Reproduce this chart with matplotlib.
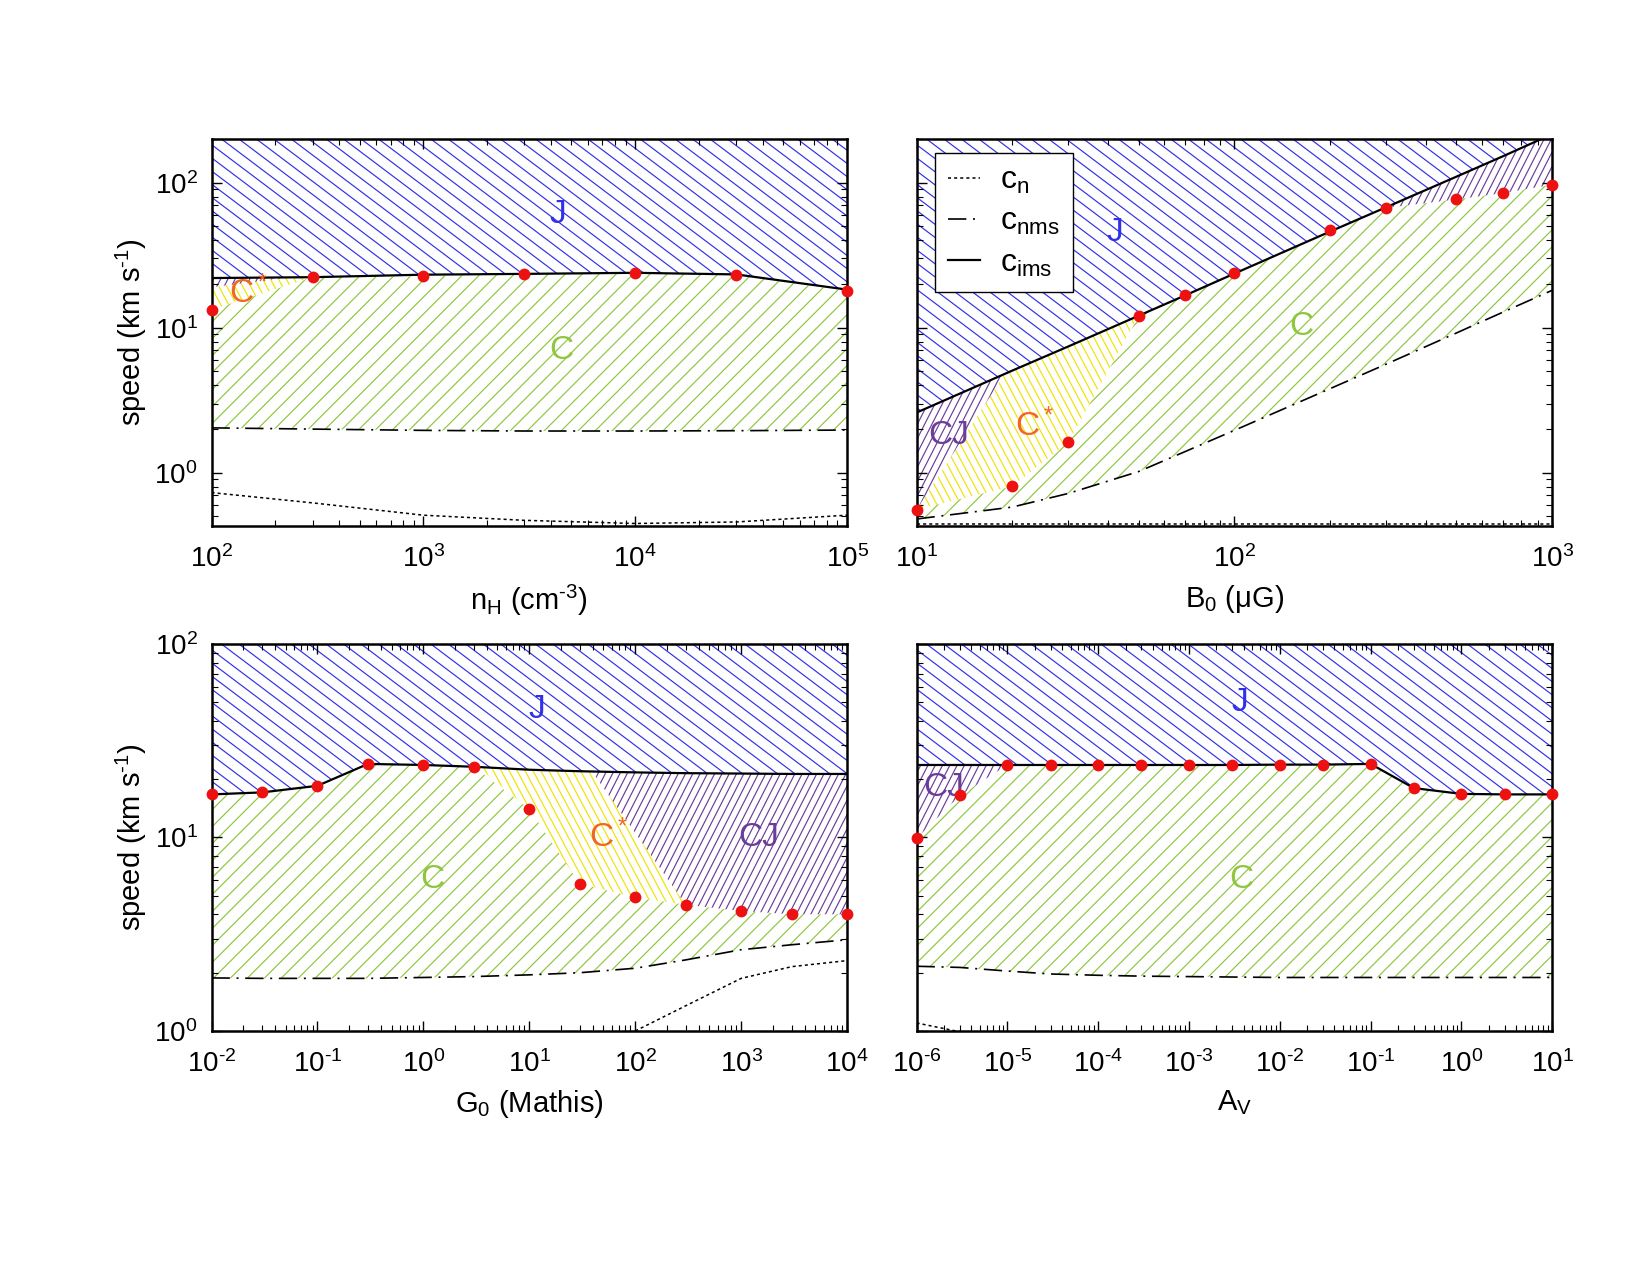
import numpy as np
import matplotlib
matplotlib.use('Agg')
import matplotlib.pyplot as plt
from matplotlib.patches import Polygon
from matplotlib.collections import LineCollection
from matplotlib.ticker import LogLocator, FuncFormatter, NullFormatter

plt.rcParams['font.family'] = ['Liberation Sans', 'DejaVu Sans']
plt.rcParams['mathtext.fontset'] = 'custom'
plt.rcParams['mathtext.rm'] = 'Liberation Sans'
plt.rcParams['mathtext.it'] = 'Liberation Sans:italic'
plt.rcParams['mathtext.default'] = 'rm'

# ---------------------------------------------------------------- data
# speeds in km/s

# (a) density n_H
nh = [1e2, 3e2, 1e3, 3e3, 1e4, 3e4, 1e5]
nh_cims = [22.0, 22.3, 23.2, 23.5, 23.9, 23.3, 18.3]
nh_cnms = [2.04, 2.0, 1.96, 1.94, 1.94, 1.95, 1.97]
nh_cn = [0.73, 0.62, 0.51, 0.47, 0.447, 0.458, 0.51]
nh_vmax = [13.3, 22.3, 22.6, 23.4, 23.8, 23.0, 17.9]
nh_cstar_x = [1e2, 2.3e2, 3e2, 1e2]
nh_cstar_y = [19.0, 22.2, 22.3, 13.3]
nh_cj_x = [1e2, 2.3e2, 1e2]
nh_cj_y = [22.0, 22.2, 19.0]

# (b) magnetic field B_0
b0 = [10, 20, 30, 50, 70, 100, 200, 300, 500, 700, 1000]
b0_cims = [2.6, 5.06, 7.42, 12.1, 16.7, 23.6, 46.0, 67.6, 110, 152, 216]
b0_cnms = [0.48, 0.58, 0.72, 1.02, 1.4, 1.96, 3.8, 5.6, 9.2, 12.8, 18.1]
b0_cn = [0.445, 0.445, 0.445, 0.445, 0.445, 0.445, 0.445, 0.445, 0.445, 0.445, 0.445]
b0_vmax = [0.557, 0.805, 1.62, 12.0, 16.8, 23.8, 47.2, 67.0, 76.6, 84.7, 96.8]
b0_cstar_x = [10, 19, 50, 30, 20]
b0_cstar_y = [0.557, 4.85, 12.1, 1.62, 0.805]
b0_cj_x = [10, 10, 19]
b0_cj_y = [0.557, 2.6, 4.85]

# (c) radiation field G_0
g0 = [1e-2, 3e-2, 1e-1, 3e-1, 1, 3, 10, 30, 1e2, 3e2, 1e3, 3e3, 1e4]
g0_cims = [16.7, 17.1, 18.5, 24.0, 23.7, 23.2, 22.4, 22.0, 21.7, 21.5, 21.4, 21.3, 21.3]
g0_cnms = [1.88, 1.87, 1.87, 1.87, 1.89, 1.91, 1.95, 2.0, 2.11, 2.33, 2.63, 2.79, 2.96]
g0_cn_x = [1e2, 3e2, 1e3, 3e3, 1e4]
g0_cn = [1.0, 1.35, 1.87, 2.15, 2.31]
g0_vmax = [16.7, 17.1, 18.5, 24.0, 23.7, 23.2, 14.0, 5.77, 4.9, 4.49, 4.17, 4.01, 4.01]
g0_cstar_x = [3.3, 39, 300, 100, 30, 10]
g0_cstar_y = [23.1, 21.95, 4.49, 4.9, 5.77, 14.0]
g0_cj_x = [39, 1e2, 3e2, 1e3, 3e3, 1e4, 1e4, 3e3, 1e3, 3e2]
g0_cj_y = [21.95, 21.7, 21.5, 21.4, 21.3, 21.3, 4.01, 4.01, 4.17, 4.49]

# (d) extinction A_V
av = [1e-6, 3e-6, 1e-5, 3e-5, 1e-4, 3e-4, 1e-3, 3e-3, 1e-2, 3e-2, 1e-1, 3e-1, 1, 3, 10]
av_cims = [23.7, 23.7, 23.7, 23.7, 23.7, 23.7, 23.7, 23.7, 23.8, 23.8, 24.0, 18.0, 16.8, 16.7, 16.7]
av_cnms = [2.16, 2.13, 2.04, 1.97, 1.94, 1.92, 1.91, 1.90, 1.89, 1.89, 1.89, 1.89, 1.89, 1.89, 1.89]
av_cn_x = [1e-6, 3e-6, 1e-5]
av_cn = [1.1, 0.99, 0.9]
av_vmax = [9.9, 16.5, 23.7, 23.7, 23.7, 23.7, 23.7, 23.7, 23.8, 23.8, 24.0, 18.0, 16.7, 16.7, 16.7]
av_cj_x = [1e-6, 3e-6, 1e-5, 1e-5, 3e-6, 1e-6]
av_cj_y = [9.9, 16.5, 23.7, 23.7, 23.7, 23.7]

# ---------------------------------------------------------------- style
FIG_W, FIG_H = 1650, 1275
BLUE = '#3030ea'
GREEN = '#8ec63f'
YELLOW = '#f0e400'
PURPLE = '#6a3d9a'
ORANGE = '#f26522'
RED = '#ee1111'
FS = 21
TICK_FS = 20
LAB_FS = 24


def hatch(ax, xs, ys, color, angle, step, lw=0.85):
    # draw parallel lines (pixel spacing/angle) clipped to a data polygon
    poly = Polygon(np.column_stack([xs, ys]), closed=True,
                   facecolor='none', edgecolor='none')
    ax.add_patch(poly)
    bb = ax.get_position()
    W = bb.width * FIG_W
    H = bb.height * FIG_H
    t = np.radians(angle)
    d = np.array([np.cos(t), np.sin(t)])
    n = np.array([-np.sin(t), np.cos(t)])
    corners = np.array([[0, 0], [W, 0], [0, H], [W, H]])
    proj = corners @ n
    L = W + H
    segs = []
    for c in np.arange(np.floor(proj.min() / step) * step, proj.max() + step, step):
        p = c * n
        a = p - L * d
        b = p + L * d
        segs.append([(a[0] / W, a[1] / H), (b[0] / W, b[1] / H)])
    lc = LineCollection(segs, colors=color, linewidths=lw,
                        transform=ax.transAxes, zorder=1)
    lc.set_clip_path(poly)
    ax.add_collection(lc, autolim=False)
    lc.set_clip_box(ax.bbox)


def regions(ax, x, cims, cnms, vmax, top):
    x = np.array(x)
    cims = np.array(cims)
    ctop = np.minimum(np.array(vmax), cims)
    # J above the ion magnetosonic speed
    hatch(ax, np.r_[x, x[::-1]], np.r_[cims, np.full(len(x), top)], BLUE, -37, 10.5)
    # C between c_nms and the max C-type speed
    hatch(ax, np.r_[x, x[::-1]], np.r_[np.array(cnms), ctop[::-1]], GREEN, 45, 12)


def curves(ax, x, cims, cnms, cn_x, cn, vx, vmax):
    ax.plot(cn_x, cn, color='black', lw=1.1, ls=(0, (2, 2)), zorder=3, label='c$_n$')
    ax.plot(x, cnms, color='black', lw=1.2, ls=(0, (11, 4, 1.2, 4)), zorder=3,
            label='c$_{nms}$')
    ax.plot(x, cims, color='black', lw=1.6, zorder=3, label='c$_{ims}$')
    ax.plot(vx, vmax, 'o', color=RED, ms=8.5, mec='none', clip_on=False, zorder=5)


def label(ax, x, y, s, color, z=6):
    ax.text(x, y, s, color=color, fontsize=LAB_FS, ha='center', va='center', zorder=z)


def decade_fmt(v, pos):
    e = int(round(np.log10(v)))
    if e < 0:
        return r'$10^{\text{-}%d}$' % (-e)
    return r'$10^{%d}$' % e


def setup(ax, xlim, ylim, xlabel, ylabel=None):
    ax.set_xscale('log')
    ax.set_yscale('log')
    ax.set_xlim(xlim)
    ax.set_ylim(ylim)
    ax.xaxis.set_major_locator(LogLocator(base=10, numticks=20))
    ax.xaxis.set_minor_locator(LogLocator(base=10, subs=np.arange(2, 10), numticks=200))
    ax.yaxis.set_major_locator(LogLocator(base=10, numticks=20))
    ax.yaxis.set_minor_locator(LogLocator(base=10, subs=np.arange(2, 10), numticks=200))
    ax.xaxis.set_major_formatter(FuncFormatter(decade_fmt))
    ax.xaxis.set_minor_formatter(NullFormatter())
    ax.yaxis.set_minor_formatter(NullFormatter())
    if ylabel:
        ax.yaxis.set_major_formatter(FuncFormatter(decade_fmt))
        ax.set_ylabel(ylabel, fontsize=FS, labelpad=4)
    else:
        ax.yaxis.set_major_formatter(NullFormatter())
    ax.tick_params(which='both', direction='in', top=True, right=True, labelsize=TICK_FS)
    ax.tick_params(which='major', length=7, width=1.0)
    ax.tick_params(axis='x', which='major', pad=14)
    ax.tick_params(axis='y', which='major', pad=10)
    ax.tick_params(which='minor', length=4, width=0.8)
    for s in ax.spines.values():
        s.set_linewidth(1.8)
    ax.set_xlabel(xlabel, fontsize=FS, labelpad=7)


fig = plt.figure(figsize=(FIG_W / 100, FIG_H / 100), dpi=100)
ax1 = fig.add_axes([0.1282, 0.5875, 0.3852, 0.3035])
ax2 = fig.add_axes([0.5555, 0.5875, 0.3852, 0.3035])
ax3 = fig.add_axes([0.1282, 0.1914, 0.3852, 0.3035])
ax4 = fig.add_axes([0.5555, 0.1914, 0.3852, 0.3035])

# ---- (a) n_H
setup(ax1, (1e2, 1e5), (0.43, 200), 'n$_H$ (cm$^{\\text{-}3}$)', 'speed (km s$^{\\text{-}1}$)')
regions(ax1, nh, nh_cims, nh_cnms, nh_vmax, 1e3)
hatch(ax1, nh_cstar_x, nh_cstar_y, YELLOW, -62, 7)
hatch(ax1, nh_cj_x, nh_cj_y, PURPLE, 63, 6.5)
curves(ax1, nh, nh_cims, nh_cnms, nh, nh_cn, nh, nh_vmax)
label(ax1, 4300, 60, 'J', BLUE)
label(ax1, 4460, 7.0, 'C', GREEN)
label(ax1, 150, 17.3, 'C$^*$', ORANGE)

# ---- (b) B_0
setup(ax2, (10, 1e3), (0.43, 200), 'B$_0$ (μG)')
regions(ax2, b0, b0_cims, b0_cnms, b0_vmax, 1e3)
hatch(ax2, b0_cstar_x, b0_cstar_y, YELLOW, -62, 7)
hatch(ax2, b0_cj_x, b0_cj_y, PURPLE, 63, 6.5)
hatch(ax2, np.r_[b0[7:], b0[7:][::-1]], np.r_[b0_vmax[7:], b0_cims[7:][::-1]], PURPLE, 63, 6.5)
curves(ax2, b0, b0_cims, b0_cnms, b0, b0_cn, b0, b0_vmax)
label(ax2, 42, 45, 'J', BLUE)
label(ax2, 162, 10.2, 'C', GREEN)
label(ax2, 23.5, 2.1, 'C$^*$', ORANGE)
label(ax2, 12.6, 1.82, 'CJ', PURPLE)
leg = ax2.legend(loc='upper left', bbox_to_anchor=(0.029, 0.963), borderaxespad=0,
                 fontsize=23, handlelength=1.0, handletextpad=0.65, labelspacing=0.35,
                 borderpad=0.4, fancybox=False, framealpha=1, edgecolor='black')
leg.get_frame().set_linewidth(1.0)
leg.set_zorder(10)

# ---- (c) G_0
setup(ax3, (1e-2, 1e4), (1, 100), 'G$_0$ (Mathis)', 'speed (km s$^{\\text{-}1}$)')
regions(ax3, g0, g0_cims, g0_cnms, g0_vmax, 1e3)
hatch(ax3, g0_cstar_x, g0_cstar_y, YELLOW, -62, 7)
hatch(ax3, g0_cj_x, g0_cj_y, PURPLE, 63, 6.5)
curves(ax3, g0, g0_cims, g0_cnms, g0_cn_x, g0_cn, g0, g0_vmax)
label(ax3, 11.7, 46, 'J', BLUE)
label(ax3, 1.22, 6.07, 'C', GREEN)
label(ax3, 56, 10.1, 'C$^*$', ORANGE)
label(ax3, 1460, 10.0, 'CJ', PURPLE)

# ---- (d) A_V
setup(ax4, (1e-6, 10), (1, 100), 'A$_V$')
regions(ax4, av, av_cims, av_cnms, av_vmax, 1e3)
hatch(ax4, av_cj_x, av_cj_y, PURPLE, 63, 6.5)
curves(ax4, av, av_cims, av_cnms, av_cn_x, av_cn, av, av_vmax)
label(ax4, 3.6e-3, 50, 'J', BLUE)
label(ax4, 3.8e-3, 6.07, 'C', GREEN)
label(ax4, 2.0e-6, 18.2, 'CJ', PURPLE, z=4)

fig.savefig('out.png', dpi=100)
